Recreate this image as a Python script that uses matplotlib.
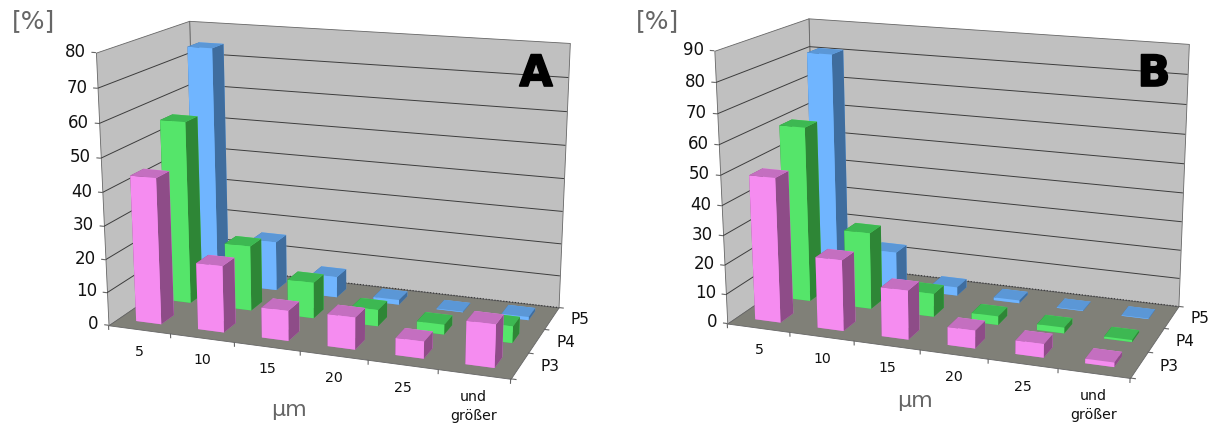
#!/usr/bin/env python3
import numpy as np
import matplotlib
matplotlib.use("Agg")
import matplotlib.pyplot as plt
import matplotlib.patheffects as pe
from mpl_toolkits.mplot3d.art3d import Poly3DCollection, Line3DCollection

categories = ["5", "10", "15", "20", "25", "und\ngrößer"]
series_names = ["P3", "P4", "P5"]

# values, one list per series
a_p3 = [44, 20, 9, 9.5, 5, 12.5]
a_p4 = [56, 20, 11, 5, 3, 5]
a_p5 = [74.5, 15.5, 6.5, 1.5, 0.2, 1]
b_p3 = [49, 24, 16.5, 6, 4.5, 1.5]
b_p4 = [60.5, 26.5, 8, 3, 2, 0.7]
b_p5 = [81, 13, 3, 1, 0.2, 0.2]

a_ticks = [0, 10, 20, 30, 40, 50, 60, 70, 80]
b_ticks = [0, 10, 20, 30, 40, 50, 60, 70, 80, 90]

# front, top, side colour per series
FACE_COLORS = {
    "P3": ("#f58cf0", "#c46fc0", "#8e4c88"),
    "P4": ("#55e56a", "#3db852", "#2e8636"),
    "P5": ("#70b5ff", "#5b97d6", "#3f6d9e"),
}
WALL = "#c0c0c0"
FLOOR = "#808078"
GRID = "#3c3c3c"
EDGE = "#666666"
BAR_DX = 0.41
BAR_DY = 0.42
BAR_Y0 = 0.3
W, H = 1219, 425


def fit_camera(world, pixels):
    """Solve the 3x4 camera matrix from corner points of the chart box"""
    rows = []
    for (x, y, z), (u, v) in zip(world, pixels):
        rows.append([x, y, z, 1, 0, 0, 0, 0, -u * x, -u * y, -u * z, -u])
        rows.append([0, 0, 0, 0, x, y, z, 1, -v * x, -v * y, -v * z, -v])
    P = np.linalg.svd(np.array(rows, dtype=float))[2][-1].reshape(3, 4)
    return P / P[2, 3]


def draw_panel(fig, series, ticks, corners, letter, letter_pos, unit_pos, um_pos):
    zmax = ticks[-1]
    nx, ny = len(categories), len(series_names)
    world = [(0, 0, 0), (nx, 0, 0), (0, ny, 0), (nx, ny, 0),
             (0, 0, zmax), (0, ny, zmax), (nx, ny, zmax)]
    P = fit_camera(world, corners)

    def label(x, y, z, text, **kwargs):
        u, v, w = P @ np.array([x, y, z, 1.0])
        fig.text(u / w / W, 1 - v / w / H, text, color="#111111", **kwargs)

    ax = fig.add_axes([0, 0, 1, 1], projection="3d", computed_zorder=False)
    ax.patch.set_visible(False)
    ax.set_axis_off()
    ax.set_xticks([])
    ax.set_yticks([])
    ax.set_zticks([])
    ax.apply_aspect = lambda position=None: None

    def get_proj():
        # pixel position -> the 2D coordinates of the 3d axes
        to_data = ax.transData.get_affine().inverted().get_matrix()
        flip = np.array([[1, 0, 0], [0, -1, H], [0, 0, 1]], dtype=float)
        h = to_data @ flip @ P
        depth = [-0.3 / nx, 1.0 / ny, -0.3 / zmax, 0]
        return np.array([h[0], h[1], depth, h[2]])
    ax.get_proj = get_proj

    # walls and floor
    walls = [
        ([[0, ny, 0], [nx, ny, 0], [nx, ny, zmax], [0, ny, zmax]], WALL),
        ([[0, 0, 0], [0, ny, 0], [0, ny, zmax], [0, 0, zmax]], WALL),
        ([[0, 0, 0], [nx, 0, 0], [nx, ny, 0], [0, ny, 0]], FLOOR),
    ]
    for verts, color in walls:
        poly = Poly3DCollection([verts], facecolors=color, edgecolors=EDGE, linewidths=0.6)
        ax.add_collection3d(poly)
        poly.set_zorder(1)

    # grid lines and ticks
    grid_segs, tick_segs = [], []
    for t in ticks:
        if 0 < t < zmax:
            grid_segs.append([(0, 0, t), (0, ny, t), (nx, ny, t)])
        tick_segs.append([(-0.07, 0, t), (0, 0, t)])
        label(-0.16, 0, t, str(t), ha="right", va="center", fontsize=12)
    for i in range(nx + 1):
        tick_segs.append([(i, 0, 0), (i, 0, -zmax * 0.018)])
    for j in range(ny + 1):
        tick_segs.append([(nx, j, 0), (nx + 0.08, j, 0)])
    grid = Line3DCollection(grid_segs, colors=GRID, linewidths=0.7)
    ax.add_collection3d(grid)
    grid.set_zorder(2)
    tick_lines = Line3DCollection(tick_segs, colors=EDGE, linewidths=0.8)
    ax.add_collection3d(tick_lines)
    tick_lines.set_zorder(2)
    back_edge = Line3DCollection([[(0, ny, 0), (nx, ny, 0)]], colors="#333333",
                                 linewidths=0.8, linestyles=":")
    ax.add_collection3d(back_edge)
    back_edge.set_zorder(2)

    # bars, back row first
    order = 3
    for j in reversed(range(ny)):
        front, top, side = FACE_COLORS[series_names[j]]
        colors = [top, top, front, front, side, side]
        for i in range(nx):
            bar = ax.bar3d(i + 0.5 - BAR_DX / 2, j + BAR_Y0, 0,
                           BAR_DX, BAR_DY, series[j][i],
                           color=colors, shade=False, linewidth=0)
            bar.set_zorder(order)
            order += 1

    # category labels
    for i, name in enumerate(categories):
        label(i + 0.5, 0, -zmax * 0.059, name, ha="center", va="top",
              fontsize=10.2, linespacing=1.45)
    for j, name in enumerate(series_names):
        label(nx + 0.28, j + 0.55, 0, name, ha="left", va="center", fontsize=11)

    fig.text(letter_pos[0] / W, 1 - letter_pos[1] / H, letter, ha="center", va="center",
             fontsize=31, fontweight="bold", color="black",
             path_effects=[pe.withStroke(linewidth=1.2, foreground="black")])
    fig.text(unit_pos[0] / W, 1 - unit_pos[1] / H, "[%]", ha="center", va="center",
             fontsize=18, color="#666666")
    fig.text(um_pos[0] / W, 1 - um_pos[1] / H, "µm", ha="center", va="center",
             fontsize=16, color="#666666")


def main():
    fig = plt.figure(figsize=(W / 100, H / 100), dpi=100)

    corners_a = [(107.7, 325), (510.7, 379), (197, 265.7), (558.3, 307.3),
                 (96.7, 52.7), (188.3, 20.7), (570, 43)]
    corners_b = [(726.7, 323.3), (1130, 378.3), (816.4, 263.3), (1178.3, 306),
                 (715, 50.7), (807.7, 18.3), (1189, 44)]

    draw_panel(fig, [a_p3, a_p4, a_p5], a_ticks, corners_a, "A", (536, 74), (33, 21), (289, 410))
    draw_panel(fig, [b_p3, b_p4, b_p5], b_ticks, corners_b, "B", (1154, 74), (658, 21), (915, 401))

    fig.savefig("out.png", dpi=100)


if __name__ == "__main__":
    main()
